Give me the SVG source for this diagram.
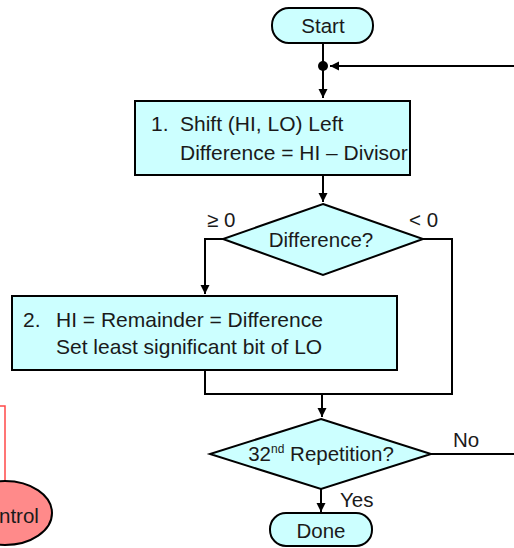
<svg xmlns="http://www.w3.org/2000/svg" width="514" height="548" viewBox="0 0 514 548">
<defs>
<marker id="ah" markerUnits="userSpaceOnUse" markerWidth="10" markerHeight="10" refX="9" refY="4.5" orient="auto">
<path d="M0,0 L9,4.5 L0,9 z" fill="#000"/>
</marker>
<style>
.n{fill:#CCFFFF;stroke:#000;stroke-width:2}
.t{font-family:"Liberation Sans",Arial,sans-serif;font-size:20.5px;fill:#1a1a1a}
.b{font-size:21px}
.tc{text-anchor:middle}
.c{fill:none;stroke:#000;stroke-width:2}
</style>
</defs>
<rect width="514" height="548" fill="#fff"/>
<g id="connectors">
<path class="c" d="M323,43 V98" marker-end="url(#ah)"/>
<path class="c" d="M514,66 H330" marker-end="url(#ah)"/>
<circle cx="323" cy="66" r="5" fill="#000"/>
<path class="c" d="M323,175 V202" marker-end="url(#ah)"/>
<path class="c" d="M223,239 H205 V294" marker-end="url(#ah)"/>
<path class="c" d="M423,239 H452 V394 H205 V370"/>
<path class="c" d="M322,394 V417" marker-end="url(#ah)"/>
<path class="c" d="M431,454 H514"/>
<path class="c" d="M321,489 V512" marker-end="url(#ah)"/>
<path d="M0,406 H5 V482" fill="none" stroke="#FF4848" stroke-width="1.5"/>
</g>
<g id="start">
<rect class="n" x="272" y="8" width="101" height="35" rx="17" ry="17"/>
<text class="t tc" x="323" y="33">Start</text>
</g>
<g id="step1">
<rect class="n" x="135" y="101" width="275" height="74"/>
<text class="t b" x="151" y="131">1.</text>
<text class="t b" x="180" y="131">Shift (HI, LO) Left</text>
<text class="t b" x="180" y="160">Difference = HI – Divisor</text>
</g>
<g id="diff">
<polygon class="n" points="323,204 423,239 323,275 223,239"/>
<text class="t tc" x="321" y="247">Difference?</text>
<text class="t" x="207" y="227">≥ 0</text>
<text class="t" x="409" y="227">&lt; 0</text>
</g>
<g id="step2">
<rect class="n" x="12" y="296" width="385" height="74"/>
<text class="t b" x="23" y="327">2.</text>
<text class="t b" x="56" y="327">HI = Remainder = Difference</text>
<text class="t b" x="56" y="354">Set least significant bit of LO</text>
</g>
<g id="rep">
<polygon class="n" points="321,419 431,454 321,489 210,454"/>
<text class="t tc" x="321" y="461">32<tspan font-size="12" dy="-8">nd</tspan><tspan dy="8"> Repetition?</tspan></text>
<text class="t" x="453" y="447">No</text>
<text class="t" x="340" y="507">Yes</text>
</g>
<g id="done">
<rect class="n" x="270" y="513" width="102" height="33" rx="16" ry="16"/>
<text class="t tc" x="321" y="538">Done</text>
</g>
<g id="control">
<ellipse cx="5" cy="513" rx="47" ry="32" fill="#FF8A8A" stroke="#000" stroke-width="2"/>
<text class="t" x="-1" y="523">ntrol</text>
</g>
</svg>
